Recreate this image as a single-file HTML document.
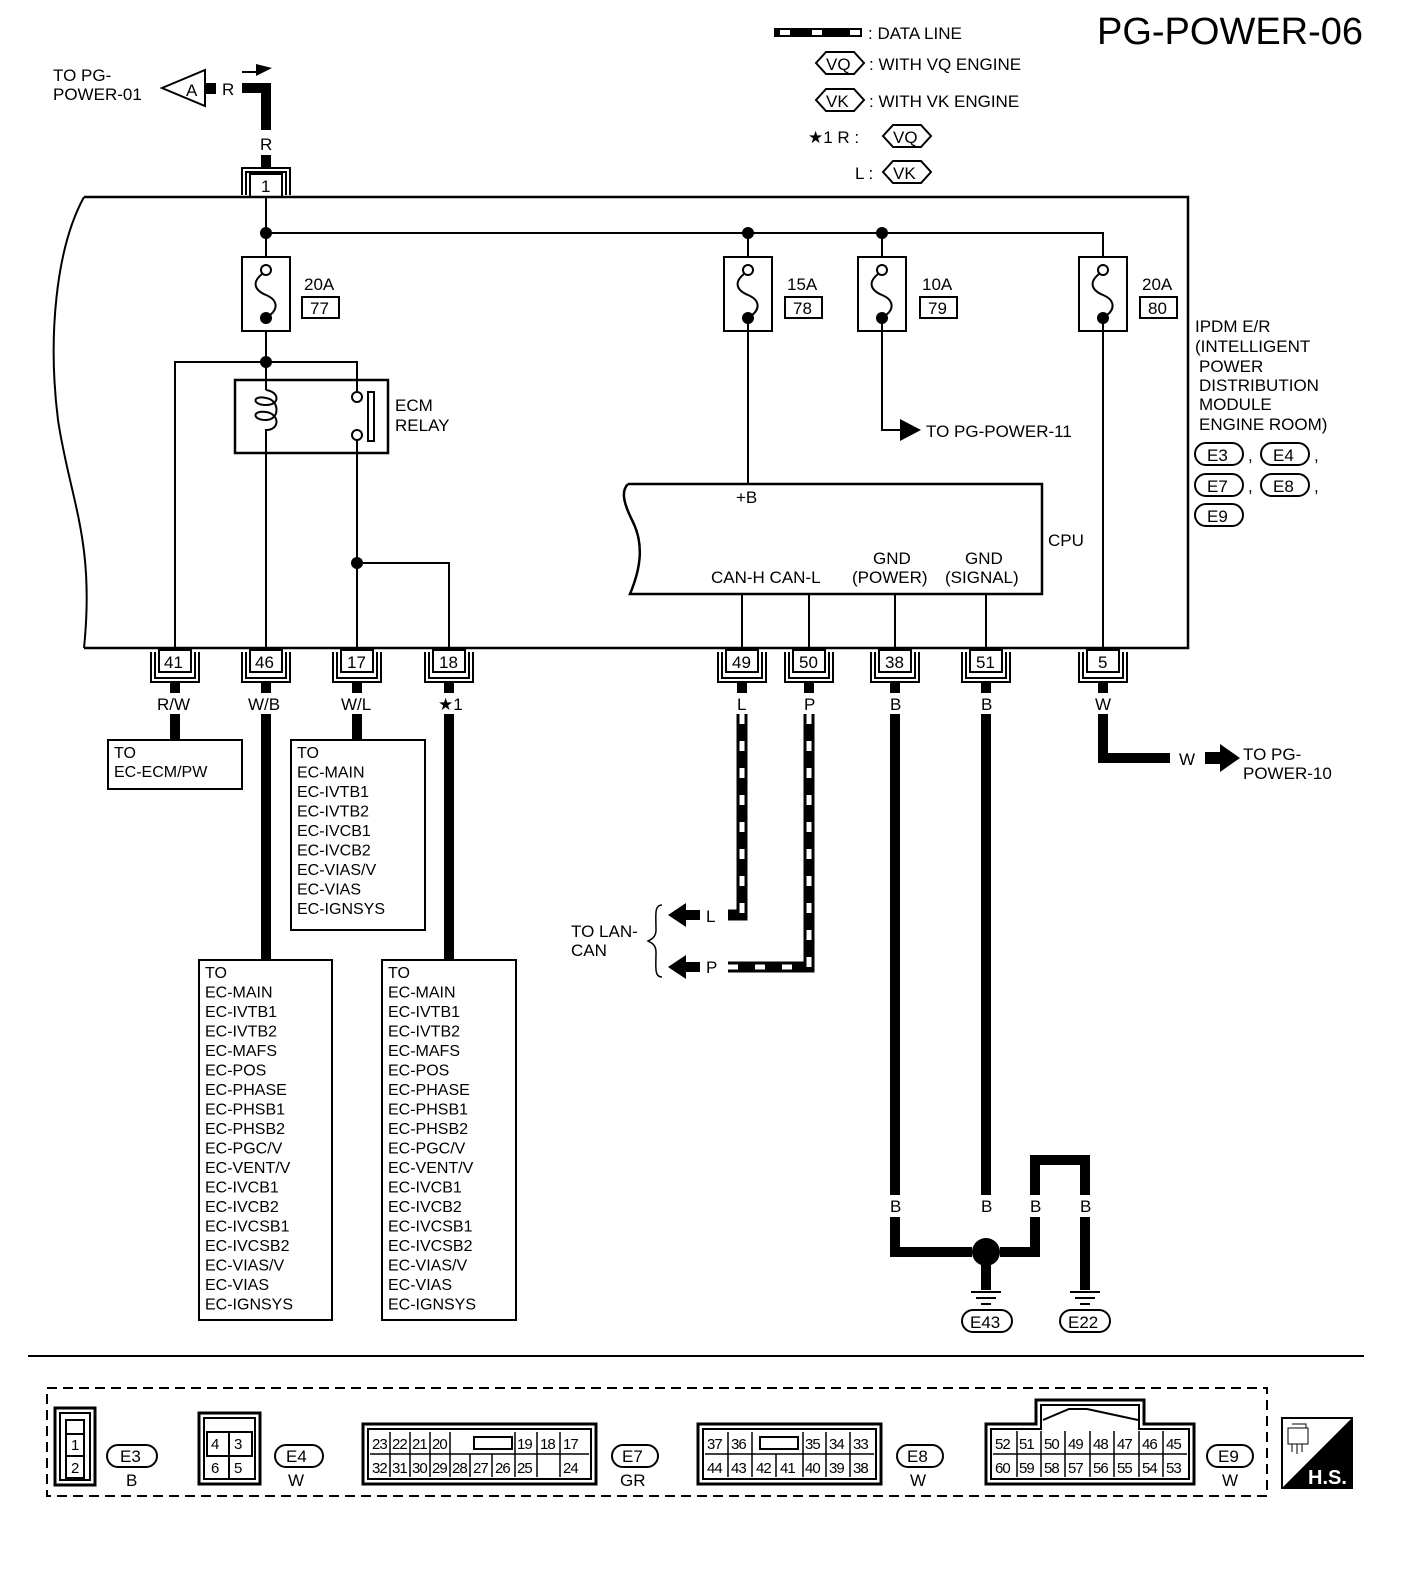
<!DOCTYPE html>
<html><head><meta charset="utf-8"><style>
html,body{margin:0;padding:0;background:#fff}
svg{display:block}
text{font-family:"Liberation Sans",sans-serif;fill:#000}
</style></head><body>
<svg width="1408" height="1572" viewBox="0 0 1408 1572" xmlns="http://www.w3.org/2000/svg">
<defs>
<g id="conn"><path d="M-24,652 V682 H24 V652 M-20,652 V678 H20 V652" fill="none" stroke="#000" stroke-width="2"/><rect x="-16" y="650" width="32" height="22" fill="#fff" stroke="#000" stroke-width="2"/></g>
<g id="fuse"><rect x="-24" y="0" width="48" height="74" fill="#fff" stroke="#000" stroke-width="2"/><circle cx="0" cy="13" r="5" fill="#fff" stroke="#000" stroke-width="2"/><circle cx="0" cy="61" r="6" fill="#000"/><path d="M-4,17 C-14,25 -12,33 0,38 C12,43 12,52 4,58" fill="none" stroke="#000" stroke-width="2"/></g>
</defs>
<g font-size="17">
<text x="1097" y="44" font-size="38">PG-POWER-06</text>
<rect x="774" y="28" width="88" height="9" fill="#000"/>
<rect x="780" y="30" width="10" height="5" fill="#fff"/><rect x="812" y="30" width="10" height="5" fill="#fff"/><rect x="850" y="30" width="10" height="5" fill="#fff"/>
<text x="868" y="39">: DATA LINE</text>
<g fill="none" stroke="#000" stroke-width="2">
<path d="M816,63 L826,52 H854 L864,63 L854,74 H826 Z"/>
<path d="M816,100 L826,89 H854 L864,100 L854,111 H826 Z"/>
<path d="M883,136 L893,125 H921 L931,136 L921,147 H893 Z"/>
<path d="M883,172 L893,161 H921 L931,172 L921,183 H893 Z"/>
</g>
<text x="826" y="70">VQ</text><text x="869" y="70">: WITH VQ ENGINE</text>
<text x="826" y="107">VK</text><text x="869" y="107">: WITH VK ENGINE</text>
<text x="808" y="143">★1  R :</text><text x="893" y="143">VQ</text>
<text x="855" y="179">L :</text><text x="893" y="179">VK</text>

<text x="53" y="81">TO PG-</text><text x="53" y="100">POWER-01</text>
<polygon points="162,88 205,70 205,106" fill="#fff" stroke="#000" stroke-width="2"/>
<text x="186" y="96">A</text>
<rect x="206" y="83" width="10" height="11" fill="#000"/>
<text x="222" y="95">R</text>
<path d="M242,88 H266 V130" fill="none" stroke="#000" stroke-width="10"/>
<path d="M242,72 H258" stroke="#000" stroke-width="2"/><polygon points="256,64 272,68 256,76" fill="#000"/>
<text x="260" y="150">R</text>
<rect x="261" y="155" width="10" height="12" fill="#000"/>
<path d="M242,195 V168 H290 V195 M246,195 V172 H286 V195" fill="none" stroke="#000" stroke-width="2"/>
<rect x="250" y="174" width="32" height="23" fill="#fff" stroke="#000" stroke-width="2"/>
<text x="261" y="192">1</text>

<path d="M84,197 H1188 V648 H84" fill="none" stroke="#000" stroke-width="2.5"/>
<path d="M84,197 C55,250 48,340 58,420 C70,500 95,540 84,648" fill="none" stroke="#000" stroke-width="2"/>

<path d="M266,197 V257 M266,233 H1103 V257 M748,233 V257 M882,233 V257" fill="none" stroke="#000" stroke-width="2"/>
<circle cx="266" cy="233" r="6"/><circle cx="748" cy="233" r="6"/><circle cx="882" cy="233" r="6"/>
<use href="#fuse" x="266" y="257"/><use href="#fuse" x="748" y="257"/><use href="#fuse" x="882" y="257"/><use href="#fuse" x="1103" y="257"/>
<g fill="none" stroke="#000" stroke-width="2">
<rect x="302" y="297" width="37" height="21"/><rect x="785" y="297" width="37" height="21"/><rect x="920" y="297" width="37" height="21"/><rect x="1140" y="297" width="37" height="21"/>
</g>
<text x="304" y="290">20A</text><text x="310" y="314">77</text>
<text x="787" y="290">15A</text><text x="793" y="314">78</text>
<text x="922" y="290">10A</text><text x="928" y="314">79</text>
<text x="1142" y="290">20A</text><text x="1148" y="314">80</text>

<g fill="none" stroke="#000" stroke-width="2">
<path d="M266,331 V390 M175,648 V362 H357 V391"/>
<rect x="235" y="380" width="153" height="73" stroke-width="2.5"/>
<path d="M266,390 C280,392 280,405 266,405 C252,405 252,395 266,398 C280,400 280,420 266,420 C252,420 252,410 266,412 C280,414 280,430 266,430 V648"/>
<circle cx="357" cy="397" r="5" fill="#fff"/><circle cx="357" cy="435" r="5" fill="#fff"/>
<rect x="368" y="392" width="6" height="49"/>
<path d="M357,440 V648 M357,563 H449 V648"/>
</g>
<circle cx="266" cy="362" r="6"/><circle cx="357" cy="563" r="6"/>
<text x="395" y="411">ECM</text><text x="395" y="431">RELAY</text>

<path d="M882,318 V430 H902" fill="none" stroke="#000" stroke-width="2"/>
<polygon points="900,419 921,430 900,441" fill="#000"/>
<text x="926" y="437">TO PG-POWER-11</text>

<path d="M748,318 V484 M1103,318 V648" fill="none" stroke="#000" stroke-width="2"/>
<path d="M628,484 H1042 V594 H630 C640,570 645,545 632,520 C622,500 622,490 628,484" fill="none" stroke="#000" stroke-width="2.5"/>
<text x="736" y="503">+B</text>
<text x="1048" y="546">CPU</text>
<text x="711" y="583">CAN-H CAN-L</text>
<text x="873" y="564">GND</text><text x="852" y="583">(POWER)</text>
<text x="965" y="564">GND</text><text x="945" y="583">(SIGNAL)</text>
<path d="M742,594 V648 M809,594 V648 M895,594 V648 M986,594 V648" fill="none" stroke="#000" stroke-width="2"/>

<text x="1195" y="332">IPDM E/R</text><text x="1195" y="352">(INTELLIGENT</text><text x="1199" y="372">POWER</text><text x="1199" y="391">DISTRIBUTION</text><text x="1199" y="410">MODULE</text><text x="1199" y="430">ENGINE ROOM)</text>
<g fill="none" stroke="#000" stroke-width="2">
<rect x="1195" y="443" width="48" height="22" rx="11"/><rect x="1261" y="443" width="48" height="22" rx="11"/>
<rect x="1195" y="474" width="48" height="22" rx="11"/><rect x="1261" y="474" width="48" height="22" rx="11"/>
<rect x="1195" y="504" width="48" height="22" rx="11"/>
</g>
<text x="1207" y="461">E3</text><text x="1248" y="461">,</text><text x="1273" y="461">E4</text><text x="1314" y="461">,</text>
<text x="1207" y="492">E7</text><text x="1248" y="492">,</text><text x="1273" y="492">E8</text><text x="1314" y="492">,</text>
<text x="1207" y="522">E9</text>

<use href="#conn" x="175"/><use href="#conn" x="266"/><use href="#conn" x="357"/><use href="#conn" x="449"/>
<use href="#conn" x="742"/><use href="#conn" x="809"/><use href="#conn" x="895"/><use href="#conn" x="986"/><use href="#conn" x="1103"/>
<text x="164" y="668">41</text><text x="255" y="668">46</text><text x="347" y="668">17</text><text x="439" y="668">18</text>
<text x="732" y="668">49</text><text x="799" y="668">50</text><text x="885" y="668">38</text><text x="976" y="668">51</text><text x="1098" y="668">5</text>
<g fill="#000">
<rect x="170" y="683" width="10" height="10"/><rect x="261" y="683" width="10" height="10"/><rect x="352" y="683" width="10" height="10"/><rect x="444" y="683" width="10" height="10"/>
<rect x="737" y="683" width="10" height="10"/><rect x="804" y="683" width="10" height="10"/><rect x="890" y="683" width="10" height="10"/><rect x="981" y="683" width="10" height="10"/><rect x="1098" y="683" width="10" height="10"/>
</g>
<text x="157" y="710">R/W</text><text x="248" y="710">W/B</text><text x="341" y="710">W/L</text><text x="438" y="710">★1</text>
<text x="737" y="710">L</text><text x="804" y="710">P</text><text x="890" y="710">B</text><text x="981" y="710">B</text><text x="1095" y="710">W</text>

<g fill="none" stroke="#000" stroke-width="10">
<path d="M175,714 V740 M266,714 V960 M357,714 V740 M449,714 V960"/>
<path d="M895,714 V1195 M986,714 V1195 M895,1217 V1252 H972 M1000,1252 H1035 V1217 M1035,1195 V1160 H1085 V1195 M1085,1217 V1290 M986,1265 V1290"/>
<path d="M1103,714 V758 H1170"/>
</g>
<circle cx="986" cy="1252" r="14"/>
<g fill="none">
<path d="M742,714 V915 H728 M809,714 V967 H728" stroke="#000" stroke-width="11"/>
<path d="M742,714 V915 H728 M809,714 V967 H728" stroke="#fff" stroke-width="5" stroke-dasharray="10,17"/>
</g>
<polygon points="668,915 686,903 686,910 700,910 700,920 686,920 686,927" fill="#000"/>
<polygon points="668,967 686,955 686,962 700,962 700,972 686,972 686,979" fill="#000"/>
<text x="706" y="922">L</text><text x="706" y="973">P</text>
<path d="M662,905 C654,905 656,915 656,930 C656,938 650,940 648,941 C650,942 656,944 656,952 C656,967 654,977 662,977" fill="none" stroke="#000" stroke-width="1.5"/>
<text x="571" y="937">TO LAN-</text><text x="571" y="956">CAN</text>

<text x="1179" y="765">W</text>
<polygon points="1205,752 1220,752 1220,744 1240,758 1220,772 1220,764 1205,764" fill="#000"/>
<text x="1243" y="760">TO PG-</text><text x="1243" y="779">POWER-10</text>

<text x="890" y="1212">B</text><text x="981" y="1212">B</text><text x="1030" y="1212">B</text><text x="1080" y="1212">B</text>
<g stroke="#000" stroke-width="2">
<path d="M971,1292 H1001 M976,1298 H996 M981,1304 H991"/>
<path d="M1070,1292 H1100 M1075,1298 H1095 M1080,1304 H1090"/>
</g>
<g fill="none" stroke="#000" stroke-width="2"><rect x="962" y="1310" width="50" height="22" rx="11"/><rect x="1060" y="1310" width="50" height="22" rx="11"/></g>
<text x="970" y="1328">E43</text><text x="1068" y="1328">E22</text>

<g fill="none" stroke="#000" stroke-width="2">
<rect x="108" y="740" width="134" height="49"/>
<rect x="291" y="740" width="134" height="190"/>
<rect x="199" y="960" width="133" height="360"/>
<rect x="382" y="960" width="134" height="360"/>
</g>
<g font-size="16">
<text x="114" y="758">TO</text><text x="114" y="777">EC-ECM/PW</text>
<text x="297" y="758">TO<tspan x="297" dy="19.5">EC-MAIN</tspan><tspan x="297" dy="19.5">EC-IVTB1</tspan><tspan x="297" dy="19.5">EC-IVTB2</tspan><tspan x="297" dy="19.5">EC-IVCB1</tspan><tspan x="297" dy="19.5">EC-IVCB2</tspan><tspan x="297" dy="19.5">EC-VIAS/V</tspan><tspan x="297" dy="19.5">EC-VIAS</tspan><tspan x="297" dy="19.5">EC-IGNSYS</tspan></text>
<text x="205" y="978">TO<tspan x="205" dy="19.5">EC-MAIN</tspan><tspan x="205" dy="19.5">EC-IVTB1</tspan><tspan x="205" dy="19.5">EC-IVTB2</tspan><tspan x="205" dy="19.5">EC-MAFS</tspan><tspan x="205" dy="19.5">EC-POS</tspan><tspan x="205" dy="19.5">EC-PHASE</tspan><tspan x="205" dy="19.5">EC-PHSB1</tspan><tspan x="205" dy="19.5">EC-PHSB2</tspan><tspan x="205" dy="19.5">EC-PGC/V</tspan><tspan x="205" dy="19.5">EC-VENT/V</tspan><tspan x="205" dy="19.5">EC-IVCB1</tspan><tspan x="205" dy="19.5">EC-IVCB2</tspan><tspan x="205" dy="19.5">EC-IVCSB1</tspan><tspan x="205" dy="19.5">EC-IVCSB2</tspan><tspan x="205" dy="19.5">EC-VIAS/V</tspan><tspan x="205" dy="19.5">EC-VIAS</tspan><tspan x="205" dy="19.5">EC-IGNSYS</tspan></text>
<text x="388" y="978">TO<tspan x="388" dy="19.5">EC-MAIN</tspan><tspan x="388" dy="19.5">EC-IVTB1</tspan><tspan x="388" dy="19.5">EC-IVTB2</tspan><tspan x="388" dy="19.5">EC-MAFS</tspan><tspan x="388" dy="19.5">EC-POS</tspan><tspan x="388" dy="19.5">EC-PHASE</tspan><tspan x="388" dy="19.5">EC-PHSB1</tspan><tspan x="388" dy="19.5">EC-PHSB2</tspan><tspan x="388" dy="19.5">EC-PGC/V</tspan><tspan x="388" dy="19.5">EC-VENT/V</tspan><tspan x="388" dy="19.5">EC-IVCB1</tspan><tspan x="388" dy="19.5">EC-IVCB2</tspan><tspan x="388" dy="19.5">EC-IVCSB1</tspan><tspan x="388" dy="19.5">EC-IVCSB2</tspan><tspan x="388" dy="19.5">EC-VIAS/V</tspan><tspan x="388" dy="19.5">EC-VIAS</tspan><tspan x="388" dy="19.5">EC-IGNSYS</tspan></text>
</g>

<line x1="28" y1="1356" x2="1364" y2="1356" stroke="#000" stroke-width="2"/>
<rect x="47" y="1388" width="1220" height="108" fill="none" stroke="#000" stroke-width="2" stroke-dasharray="10,6"/>
<g fill="none" stroke="#000" stroke-width="2">
<rect x="55" y="1408" width="40" height="77" stroke-width="3"/><rect x="60" y="1413" width="30" height="67"/>
<rect x="66" y="1420" width="18" height="14"/><rect x="66" y="1434" width="18" height="22"/><rect x="66" y="1456" width="18" height="22"/>
<rect x="107" y="1445" width="50" height="22" rx="11"/>
<rect x="199" y="1413" width="61" height="71" stroke-width="3"/><rect x="204" y="1418" width="51" height="61"/>
<rect x="207" y="1432" width="45" height="24"/><line x1="229" y1="1432" x2="229" y2="1478"/><line x1="207" y1="1456" x2="252" y2="1456"/>
<rect x="275" y="1445" width="48" height="22" rx="11"/>
<rect x="363" y="1424" width="233" height="60" stroke-width="3"/><rect x="368" y="1429" width="223" height="50"/>
<rect x="474" y="1437" width="38" height="12"/>
<rect x="612" y="1445" width="46" height="22" rx="11"/>
<rect x="698" y="1424" width="183" height="60" stroke-width="3"/><rect x="703" y="1429" width="173" height="50"/>
<rect x="760" y="1437" width="38" height="12"/>
<rect x="897" y="1445" width="46" height="22" rx="11"/>
<path d="M986,1484 V1424 H1036 V1400 H1144 V1424 H1194 V1484 Z" stroke-width="3"/>
<path d="M991,1479 V1429 H1041 V1405 H1139 V1429 H1189 V1479 Z"/>
<path d="M1043,1420 L1069,1409 L1087,1409 L1138,1420"/>
<rect x="1207" y="1445" width="46" height="22" rx="11"/>
</g>
<g stroke="#000" stroke-width="1.5">
<path d="M370,1454 H589 M390,1432 V1477 M410,1432 V1477 M430,1432 V1477 M450,1432 V1477 M470,1454 V1477 M492,1454 V1477 M515,1432 V1477 M537,1432 V1477 M560,1432 V1477"/>
<path d="M705,1454 H874 M728,1432 V1477 M752,1432 V1477 M776,1454 V1477 M803,1432 V1477 M826,1432 V1477 M850,1432 V1477"/>
<path d="M993,1454 H1187 M1017,1431 V1477 M1041,1431 V1477 M1065,1431 V1477 M1090,1431 V1477 M1114,1431 V1477 M1139,1431 V1477 M1163,1431 V1477"/>
</g>
<g font-size="15">
<text x="71" y="1450">1</text><text x="71" y="1473">2</text>
<text x="211" y="1449">4</text><text x="234" y="1449">3</text><text x="211" y="1473">6</text><text x="234" y="1473">5</text>
<text x="372" y="1449" letter-spacing="-1">23</text><text x="392" y="1449" letter-spacing="-1">22</text><text x="412" y="1449" letter-spacing="-1">21</text><text x="432" y="1449" letter-spacing="-1">20</text><text x="517" y="1449" letter-spacing="-1">19</text><text x="540" y="1449" letter-spacing="-1">18</text><text x="563" y="1449" letter-spacing="-1">17</text>
<text x="372" y="1473" letter-spacing="-1">32</text><text x="392" y="1473" letter-spacing="-1">31</text><text x="412" y="1473" letter-spacing="-1">30</text><text x="432" y="1473" letter-spacing="-1">29</text><text x="452" y="1473" letter-spacing="-1">28</text><text x="473" y="1473" letter-spacing="-1">27</text><text x="495" y="1473" letter-spacing="-1">26</text><text x="517" y="1473" letter-spacing="-1">25</text><text x="563" y="1473" letter-spacing="-1">24</text>
<text x="707" y="1449" letter-spacing="-1">37</text><text x="731" y="1449" letter-spacing="-1">36</text><text x="805" y="1449" letter-spacing="-1">35</text><text x="829" y="1449" letter-spacing="-1">34</text><text x="853" y="1449" letter-spacing="-1">33</text>
<text x="707" y="1473" letter-spacing="-1">44</text><text x="731" y="1473" letter-spacing="-1">43</text><text x="756" y="1473" letter-spacing="-1">42</text><text x="780" y="1473" letter-spacing="-1">41</text><text x="805" y="1473" letter-spacing="-1">40</text><text x="829" y="1473" letter-spacing="-1">39</text><text x="853" y="1473" letter-spacing="-1">38</text>
<text x="995" y="1449" letter-spacing="-1">52</text><text x="1019" y="1449" letter-spacing="-1">51</text><text x="1044" y="1449" letter-spacing="-1">50</text><text x="1068" y="1449" letter-spacing="-1">49</text><text x="1093" y="1449" letter-spacing="-1">48</text><text x="1117" y="1449" letter-spacing="-1">47</text><text x="1142" y="1449" letter-spacing="-1">46</text><text x="1166" y="1449" letter-spacing="-1">45</text>
<text x="995" y="1473" letter-spacing="-1">60</text><text x="1019" y="1473" letter-spacing="-1">59</text><text x="1044" y="1473" letter-spacing="-1">58</text><text x="1068" y="1473" letter-spacing="-1">57</text><text x="1093" y="1473" letter-spacing="-1">56</text><text x="1117" y="1473" letter-spacing="-1">55</text><text x="1142" y="1473" letter-spacing="-1">54</text><text x="1166" y="1473" letter-spacing="-1">53</text>
</g>
<text x="120" y="1462">E3</text><text x="126" y="1486">B</text>
<text x="286" y="1462">E4</text><text x="288" y="1486">W</text>
<text x="622" y="1462">E7</text><text x="620" y="1486">GR</text>
<text x="907" y="1462">E8</text><text x="910" y="1486">W</text>
<text x="1218" y="1462">E9</text><text x="1222" y="1486">W</text>
<rect x="1282" y="1418" width="70" height="70" fill="#fff" stroke="#000" stroke-width="2"/>
<polygon points="1352,1418 1352,1488 1282,1488" fill="#000"/>
<g fill="none" stroke="#000" stroke-width="1"><rect x="1288" y="1428" width="20" height="16"/><path d="M1292,1444 V1452 M1297,1444 V1454 M1302,1444 V1452 M1292,1424 H1306 V1428"/></g>
<text x="1308" y="1484" font-size="20" font-weight="bold" style="fill:#fff">H.S.</text>
</g>
</svg>
</body></html>
